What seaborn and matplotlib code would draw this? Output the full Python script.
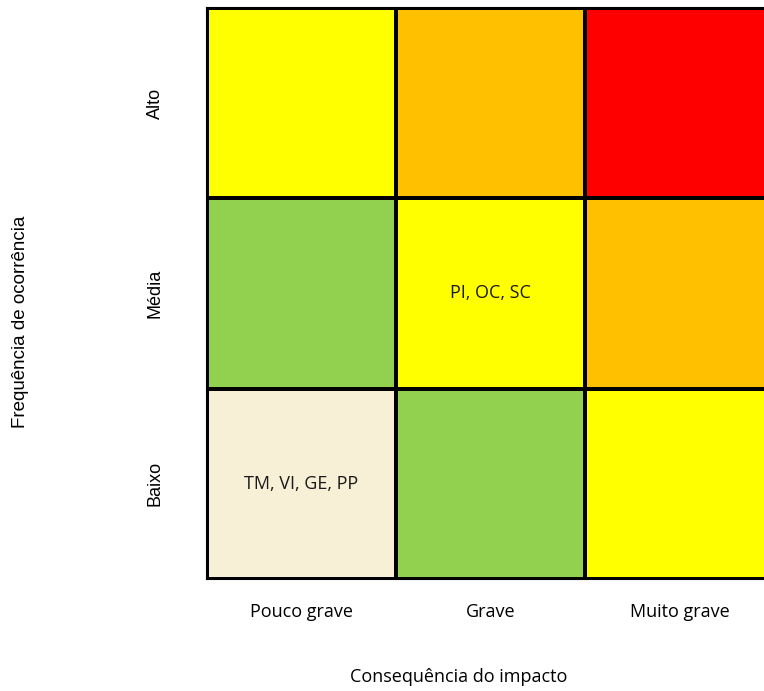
import matplotlib
matplotlib.use("Agg")
import matplotlib.pyplot as plt
import seaborn as sns
import numpy as np
import pandas as pd
from matplotlib.colors import ListedColormap

# risk levels: 0 cream, 1 green, 2 yellow, 3 orange, 4 red
rows = ["Alto", "Média", "Baixo"]
cols = ["Pouco grave", "Grave", "Muito grave"]
levels = [[2, 3, 4],
          [1, 2, 3],
          [0, 1, 2]]
labels = [["", "", ""],
          ["", "PI, OC, SC", ""],
          ["TM, VI, GE, PP", "", ""]]
colors = ["#F8F0D6", "#92D050", "#FFFF00", "#FFC000", "#FF0000"]

df = pd.DataFrame(levels, index=rows, columns=cols)

fig = plt.figure(figsize=(7.64, 6.91), dpi=100)
ax = fig.add_axes([207 / 764, 1 - 579 / 691, 567 / 764, 571 / 691])
sns.heatmap(df, ax=ax, cmap=ListedColormap(colors), vmin=-0.5, vmax=4.5,
            annot=np.array(labels), fmt="", cbar=False,
            linewidths=1.5, linecolor="black",
            annot_kws={"fontsize": 13, "color": "#1a1a1a", "family": "Open Sans"})

for s in ax.spines.values():
    s.set_visible(True)
    s.set_linewidth(1.5)
    s.set_color("black")

ax.tick_params(length=0)
ax.tick_params(axis="x", pad=17)
ax.tick_params(axis="y", pad=31)
ax.set_xticklabels(cols, fontsize=13, family="Open Sans", rotation=0)
ax.set_yticklabels(rows, fontsize=13, family="Liberation Sans", rotation=90, va="center")
ax.set_xlabel("Consequência do impacto", fontsize=13, family="Open Sans")
ax.set_ylabel("Frequência de ocorrência", fontsize=13.5, family="Liberation Sans")
ax.xaxis.set_label_coords((459 - 207) / 567, (579 - 677) / 571)
ax.yaxis.set_label_coords((20 - 207) / 567, (579 - 322) / 571)
ax.xaxis.label.set_va("center")
ax.yaxis.label.set_va("center")

fig.savefig("out.png", dpi=100)
